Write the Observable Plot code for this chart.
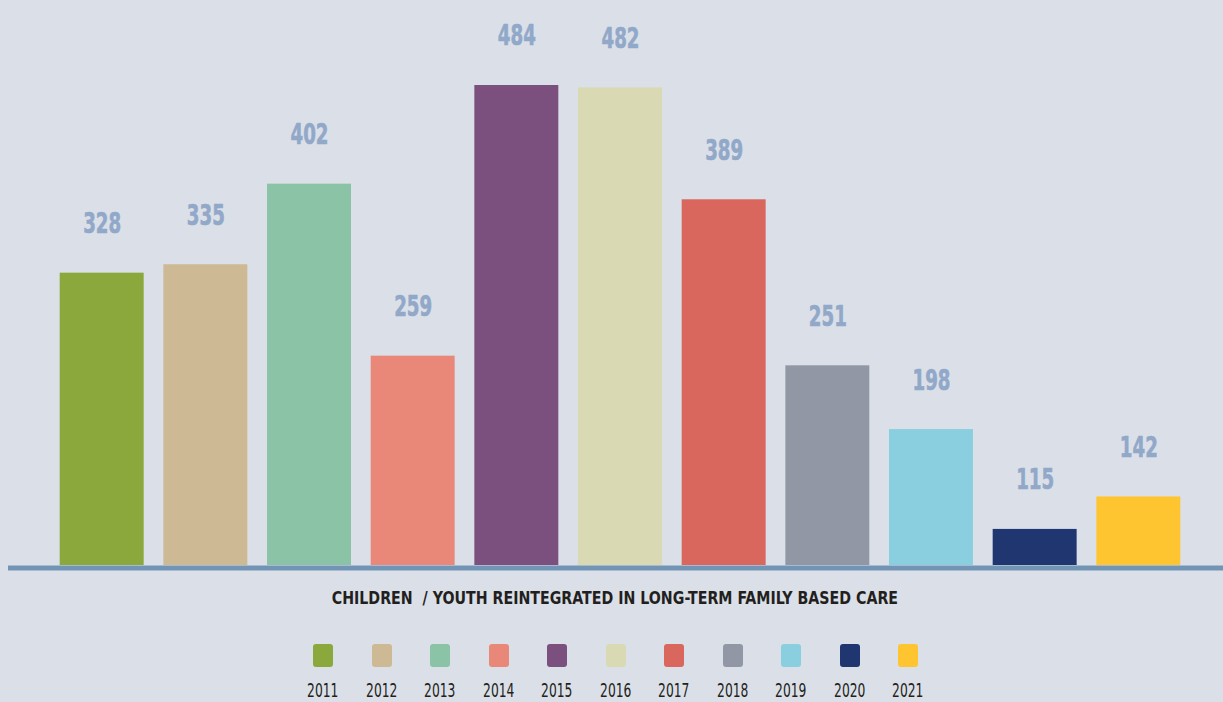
<!DOCTYPE html>
<html>
<head>
<meta charset="utf-8">
<script src="https://cdn.jsdelivr.net/npm/d3@7"></script>
<script src="https://cdn.jsdelivr.net/npm/@observablehq/plot@0.6"></script>
<style>
  html, body { margin: 0; padding: 0; background: #dbe0e8; }
  body { width: 1223px; height: 702px; overflow: hidden; font-family: "Liberation Sans Narrow", "DejaVu Sans Condensed", "Roboto", sans-serif; font-stretch: condensed; }
  #chart svg { display: block; background: transparent; }
  #title { text-align: center; height: 22px; line-height: 22px; margin-top: 12px; padding-left: 6px; }
  #title span { display: inline-block; font-weight: bold; font-size: 18px; color: #231f20; transform: scaleX(0.877); white-space: pre; }
  #legend { display: flex; justify-content: center; margin-top: 35px; padding-left: 8px; }
  .item { width: 58.5px; display: flex; flex-direction: column; align-items: center; }
  .sw { width: 20px; height: 23px; border-radius: 3px; }
  .lb { margin-top: 12px; font-size: 19px; color: #231f20; line-height: 22px; transform: scaleX(0.72); white-space: nowrap; }
</style>
</head>
<body>
<div id="chart"></div>
<div id="title"><span></span></div>
<div id="legend"></div>
<script>
const years = ["2011","2012","2013","2014","2015","2016","2017","2018","2019","2020","2021"];
const values = [328, 335, 402, 259, 484, 482, 389, 251, 198, 115, 142];
const colors = ["#8aa83c","#cdb994","#8ac3a6","#e98878","#7b4f7e","#d9d9b4","#d9675e","#9297a5","#8acfdf","#1f3670","#ffc530"];
const titleText = "CHILDREN  / YOUTH REINTEGRATED IN LONG-TERM FAMILY BASED CARE";
const yBase = 85;

const data = years.map((y, i) => ({year: y, value: values[i], color: colors[i]}));

const chart = Plot.plot({
  width: 1223,
  height: 575,
  marginTop: 0,
  marginBottom: 0,
  marginLeft: 8,
  marginRight: 0,
  style: {background: "transparent", fontFamily: "'Liberation Sans Narrow', 'DejaVu Sans Condensed', sans-serif"},
  x: {domain: years, range: [40, 1200], padding: 0.19, round: false, axis: null},
  y: {domain: [yBase, 484], range: [565, 85], axis: null},
  marks: [
    Plot.rectY(data, {x: "year", y1: yBase, y2: "value", fill: "color"}),
    Plot.ruleY([yBase], {stroke: "#7395b5", strokeWidth: 5, dy: 2.5}),
    Plot.text(data, {x: "year", y: "value", text: d => String(d.value), dy: -49, fill: "#91a8c9", fontSize: 28, fontWeight: "bold", lineAnchor: "middle", stroke: "#91a8c9", strokeWidth: 0.6})
  ]
});
d3.select(chart).selectAll("g[aria-label=text] text")
  .attr("textLength", 38).attr("lengthAdjust", "spacingAndGlyphs");
document.getElementById("chart").appendChild(chart);
document.querySelector("#title span").textContent = titleText;
const legend = document.getElementById("legend");
years.forEach((y, i) => {
  const it = document.createElement("div");
  it.className = "item";
  const sw = document.createElement("div");
  sw.className = "sw";
  sw.style.background = colors[i];
  const lb = document.createElement("div");
  lb.className = "lb";
  lb.textContent = y;
  it.appendChild(sw); it.appendChild(lb);
  legend.appendChild(it);
});
</script>
</body>
</html>
